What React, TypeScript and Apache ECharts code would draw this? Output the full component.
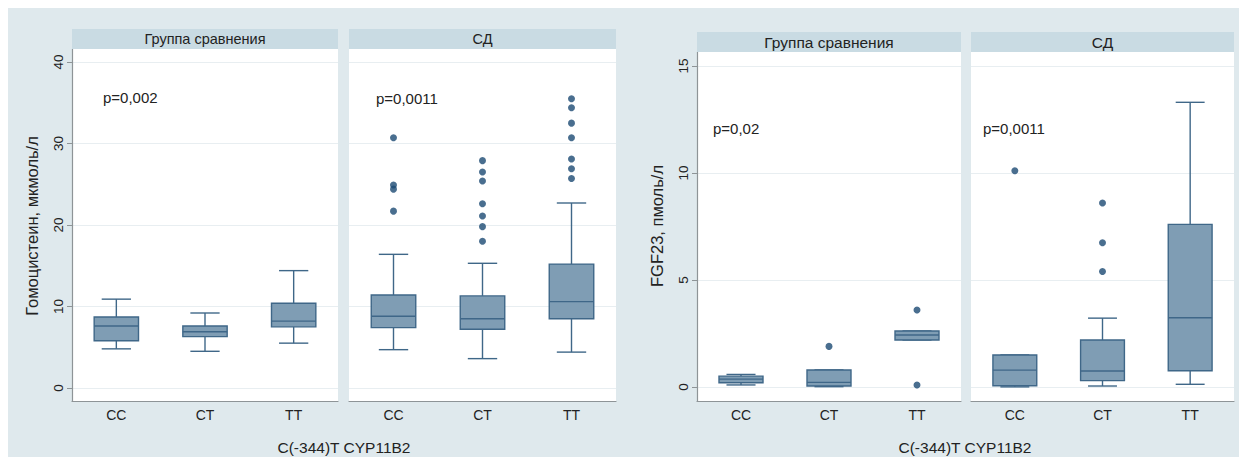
import React, { useEffect, useRef } from "react";
import * as echarts from "echarts";

const categories = ["CC", "CT", "TT"];
const facetTitles = ["Группа сравнения", "СД"];
const pValuesHcy = ["p=0,002", "p=0,0011"];
const pValuesFgf = ["p=0,02", "p=0,0011"];

// [lower whisker, Q1, median, Q3, upper whisker] for CC, CT, TT
const hcyCompBoxes = [
  [4.8, 5.8, 7.6, 8.7, 10.9],
  [4.5, 6.3, 6.9, 7.6, 9.2],
  [5.5, 7.5, 8.2, 10.4, 14.4],
];
const hcyDmBoxes = [
  [4.7, 7.4, 8.8, 11.4, 16.4],
  [3.6, 7.2, 8.5, 11.3, 15.3],
  [4.4, 8.5, 10.6, 15.2, 22.7],
];
const hcyDmOutCC = [30.7, 24.9, 24.4, 21.7];
const hcyDmOutCT = [27.9, 26.5, 25.4, 22.6, 21.1, 19.8, 18.0];
const hcyDmOutTT = [35.5, 34.4, 32.5, 30.7, 28.1, 26.9, 25.7];

const fgfCompBoxes = [
  [0.1, 0.2, 0.37, 0.51, 0.59],
  [0.02, 0.05, 0.22, 0.8, 0.8],
  [2.2, 2.2, 2.43, 2.62, 2.62],
];
const fgfDmBoxes = [
  [0.01, 0.06, 0.79, 1.5, 1.5],
  [0.05, 0.3, 0.75, 2.2, 3.22],
  [0.13, 0.76, 3.24, 7.6, 13.3],
];
const fgfCompOutCT = [1.9];
const fgfCompOutTT = [3.6, 0.1];
const fgfDmOutCC = [10.1];
const fgfDmOutCT = [8.6, 6.74, 5.4];

const hcyTicks = [0, 10, 20, 30, 40];
const fgfTicks = [0, 5, 10, 15];

const FONT = "Liberation Sans, Arial, sans-serif";
const BOX_FILL = "#7f9db4";
const BOX_LINE = "#3f6788";
const DOT = "#1c4a73";
const AXIS = "#8e9497";
const GRID_LINE = "#e8eef1";

function boxData(boxes: number[][]) {
  return boxes.map((b, i) => [i, ...b]);
}
function outData(lists: number[][]) {
  const res: number[][] = [];
  lists.forEach((l, i) => l.forEach((v) => res.push([i, v])));
  return res;
}

function renderBox(params: any, api: any) {
  const x = api.value(0);
  const lo = api.coord([x, api.value(1)]);
  const q1 = api.coord([x, api.value(2)]);
  const med = api.coord([x, api.value(3)]);
  const q3 = api.coord([x, api.value(4)]);
  const hi = api.coord([x, api.value(5)]);
  const band = api.size([1, 0])[0];
  const bw = band * 0.5;
  const cw = band * 0.33;
  const cx = q1[0];
  const ls = { stroke: BOX_LINE, lineWidth: 1.4 };
  return {
    type: "group",
    children: [
      { type: "line", shape: { x1: cx, y1: q3[1], x2: cx, y2: hi[1] }, style: ls },
      { type: "line", shape: { x1: cx, y1: q1[1], x2: cx, y2: lo[1] }, style: ls },
      { type: "line", shape: { x1: cx - cw / 2, y1: hi[1], x2: cx + cw / 2, y2: hi[1] }, style: ls },
      { type: "line", shape: { x1: cx - cw / 2, y1: lo[1], x2: cx + cw / 2, y2: lo[1] }, style: ls },
      {
        type: "rect",
        shape: { x: cx - bw / 2, y: q3[1], width: bw, height: Math.max(q1[1] - q3[1], 1) },
        style: { fill: BOX_FILL, stroke: BOX_LINE, lineWidth: 1.4 },
      },
      { type: "line", shape: { x1: cx - bw / 2, y1: med[1], x2: cx + bw / 2, y2: med[1] }, style: ls },
    ],
  };
}

export default function App() {
  const ref = useRef<HTMLDivElement>(null);
  useEffect(() => {
    if (!ref.current) return;
    const chart = echarts.init(ref.current, undefined, { renderer: "svg" });

    const grids = [
      { left: 72, top: 49, width: 266, height: 352 },
      { left: 349, top: 49, width: 267, height: 352 },
      { left: 697, top: 52, width: 264, height: 349 },
      { left: 971, top: 52, width: 263, height: 349 },
    ];
    const yRanges = [
      [-1.6, 41.6, hcyTicks],
      [-1.6, 41.6, hcyTicks],
      [-0.65, 15.65, fgfTicks],
      [-0.65, 15.65, fgfTicks],
    ] as const;

    const xAxis = grids.map((_, i) => ({
      type: "category",
      gridIndex: i,
      data: categories,
      axisLine: { show: true, onZero: false, lineStyle: { color: AXIS, width: 1.2 } },
      axisTick: { show: false },
      axisLabel: { fontFamily: FONT, fontSize: 14, color: "#222", margin: 7 },
      splitLine: { show: false },
    }));
    const yAxis = grids.map((_, i) => {
      const [min, max, ticks] = yRanges[i];
      const first = i % 2 === 0;
      return {
        type: "value",
        gridIndex: i,
        min,
        max,
        axisLine: { show: first, onZero: false, lineStyle: { color: AXIS, width: 1.2 } },
        axisTick: {
          show: first,
          length: 5,
          lineStyle: { color: AXIS },
          customValues: ticks as any,
        },
        axisLabel: {
          show: first,
          rotate: 90,
          fontFamily: FONT,
          fontSize: 13.5,
          color: "#222",
          margin: 7,
          customValues: ticks as any,
        },
        splitLine: { show: true, lineStyle: { color: GRID_LINE, width: 1 } },
      };
    });

    const boxSets = [hcyCompBoxes, hcyDmBoxes, fgfCompBoxes, fgfDmBoxes];
    const outSets = [
      [[], [], []],
      [hcyDmOutCC, hcyDmOutCT, hcyDmOutTT],
      [[], fgfCompOutCT, fgfCompOutTT],
      [fgfDmOutCC, fgfDmOutCT, []],
    ];

    const series: any[] = [];
    boxSets.forEach((b, i) => {
      series.push({
        type: "custom",
        xAxisIndex: i,
        yAxisIndex: i,
        renderItem: renderBox,
        encode: { x: 0, y: [1, 2, 3, 4, 5] },
        data: boxData(b),
        z: 2,
      });
      series.push({
        type: "scatter",
        xAxisIndex: i,
        yAxisIndex: i,
        symbol: "circle",
        symbolSize: 7,
        itemStyle: { color: DOT },
        data: outData(outSets[i] as number[][]),
        z: 3,
      });
    });

    const stripText = (x: number, y: number, w: number, h: number, t: string, fs: number) => [
      { type: "rect", z: 1, shape: { x, y, width: w, height: h }, style: { fill: "#c9dbe3" } },
      {
        type: "text",
        z: 2,
        x: x + w / 2,
        y: y + h / 2,
        style: { text: t, fontFamily: FONT, fontSize: fs, fill: "#222", align: "center", verticalAlign: "middle" },
      },
    ];
    const txt = (x: number, y: number, t: string, fs: number, extra: any = {}) => ({
      type: "text",
      z: 5,
      x,
      y,
      ...extra,
      style: { text: t, fontFamily: FONT, fontSize: fs, fill: "#222", align: "left", verticalAlign: "middle", ...(extra.style || {}) },
    });

    const graphic: any[] = [
      { type: "rect", z: -10, shape: { x: 8, y: 8, width: 1231, height: 449 }, style: { fill: "#dfe9ed" } },
      ...stripText(72, 29, 266, 20, facetTitles[0], 14.5),
      ...stripText(349, 29, 267, 20, facetTitles[1], 14.5),
      ...stripText(697, 32, 264, 20, facetTitles[0], 15.5),
      ...stripText(971, 32, 263, 20, facetTitles[1], 15.5),
      txt(103, 97, pValuesHcy[0], 15),
      txt(376, 98, pValuesHcy[1], 15),
      txt(713, 128, pValuesFgf[0], 15),
      txt(983, 128, pValuesFgf[1], 15),
      txt(32, 226, "Гомоцистеин, мкмоль/л", 16.5, { rotation: Math.PI / 2, style: { align: "center" } }),
      txt(657, 226, "FGF23, пмоль/л", 16.5, { rotation: Math.PI / 2, style: { align: "center" } }),
      txt(344, 447, "C(-344)T CYP11B2", 15.5, { style: { align: "center" } }),
      txt(965, 447, "C(-344)T CYP11B2", 15.5, { style: { align: "center" } }),
    ];

    chart.setOption({
      animation: false,
      backgroundColor: "#ffffff",
      grid: grids.map((g) => ({ ...g, show: true, backgroundColor: "#ffffff", borderWidth: 0 })),
      xAxis,
      yAxis,
      series,
      graphic,
    } as any);

    return () => chart.dispose();
  }, []);

  return (
    <div
      ref={ref}
      style={{ position: "fixed", left: 0, top: 0, width: 1239, height: 457 }}
    />
  );
}
